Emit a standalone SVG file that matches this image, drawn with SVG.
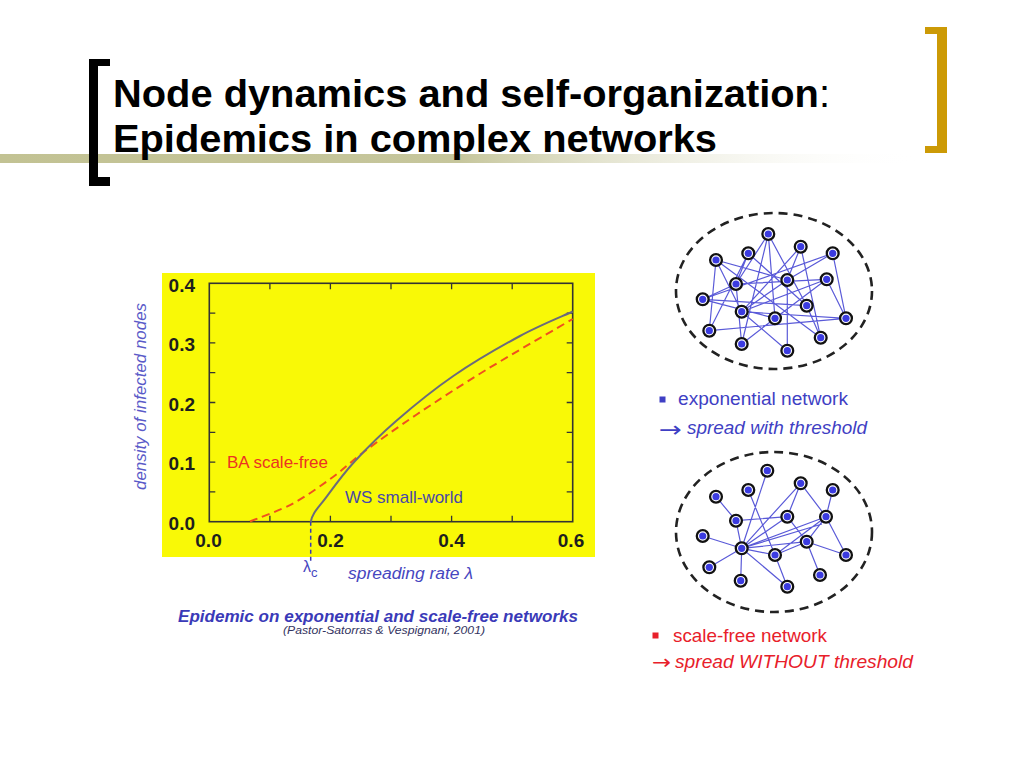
<svg xmlns="http://www.w3.org/2000/svg" width="1024" height="768" viewBox="0 0 1024 768">
<defs>
<linearGradient id="band" x1="0" y1="0" x2="920" y2="0" gradientUnits="userSpaceOnUse">
<stop offset="0" stop-color="#c2c293"/>
<stop offset="0.5" stop-color="#c6c69c"/>
<stop offset="1" stop-color="#ffffff" stop-opacity="0"/>
</linearGradient>
<g id="nd"><circle r="5.9" fill="#fff" stroke="#111" stroke-width="2.3"/><circle r="3.6" fill="#3b3be0"/></g>
<style>
text{font-family:"Liberation Sans",Arial,sans-serif}
.title{font-size:39px;font-weight:bold;fill:#000}
.tick{stroke:#333;stroke-width:1.3}
.tl{font-size:19px;font-weight:bold;fill:#1e1e1e}
.edge{stroke:#5a5ad8;stroke-width:1.2;fill:none}
.ell{fill:none;stroke:#222;stroke-width:2.6;stroke-dasharray:9 6}
.blue{fill:#3f3fc4}
.red{fill:#e8202a}
.arr{font-family:"DejaVu Sans",sans-serif}
</style>
</defs>
<rect width="1024" height="768" fill="#fff"/>
<!-- title decoration -->
<rect x="0" y="154" width="920" height="9" fill="url(#band)"/>
<path d="M89,59 H110 V66 H98 V177 H110 V186 H89 Z" fill="#000"/>
<path d="M925,27 H947 V153 H925 V146 H937 V34 H925 Z" fill="#cc9a06"/>
<text class="title" x="113" y="107" textLength="717" lengthAdjust="spacingAndGlyphs">Node dynamics and self-organization<tspan font-weight="normal">:</tspan></text>
<text class="title" x="113" y="152" textLength="604" lengthAdjust="spacingAndGlyphs">Epidemics in complex networks</text>

<!-- plot -->
<g id="plot">
<rect x="162" y="273" width="433" height="284" fill="#f9f906"/>
<rect x="209.3" y="283.3" width="363.4" height="238.4" fill="none" stroke="#333" stroke-width="1.6"/>
<g class="tick">
<path d="M269.9,521.7v-6M330.4,521.7v-6M391,521.7v-6M451.6,521.7v-6M512.2,521.7v-6M269.9,283.3v6M330.4,283.3v6M391,283.3v6M451.6,283.3v6M512.2,283.3v6"/>
<path d="M209.3,491.9h6M209.3,462.1h6M209.3,432.3h6M209.3,402.5h6M209.3,372.7h6M209.3,342.9h6M209.3,313.1h6M572.7,491.9h-6M572.7,462.1h-6M572.7,432.3h-6M572.7,402.5h-6M572.7,372.7h-6M572.7,342.9h-6M572.7,313.1h-6"/>
</g>
<g class="tl" text-anchor="end">
<text x="195" y="292">0.4</text>
<text x="195" y="351">0.3</text>
<text x="195" y="411">0.2</text>
<text x="195" y="470">0.1</text>
<text x="195" y="530">0.0</text>
</g>
<g class="tl" text-anchor="middle">
<text x="208.5" y="547">0.0</text>
<text x="330.5" y="547">0.2</text>
<text x="451.5" y="547">0.4</text>
<text x="571" y="547">0.6</text>
</g>
<path d="M250,521.5 C257.2,518.5 279.4,510.8 293.3,503.3 C307.2,495.8 321.35,485.4 333.3,476.7 C345.25,468 351.1,461.4 365,451 C378.9,440.6 396.4,428.1 416.7,414.5 C437,400.9 460.7,385.4 486.7,369.5 C512.7,353.6 558.4,327.4 572.7,319" fill="none" stroke="#f0501e" stroke-width="2" stroke-dasharray="8 5"/>
<path d="M310.7,522 C312.5,512 319.3,506.9 326.7,496.7 C334.1,486.5 343.3,473.7 355,461 C366.7,448.3 380.3,434.7 396.7,420.5 C413.1,406.3 432.8,390.1 453.3,376 C473.9,361.9 500.1,346.75 520,336 C539.9,325.25 563.9,315.6 572.7,311.5" fill="none" stroke="#6b6b7c" stroke-width="2"/>
<path d="M310.7,521.7 V562" stroke="#3a3ab0" stroke-width="1.5" stroke-dasharray="4 3"/>
<text x="227" y="468" font-size="17" fill="#ec3322" textLength="101" lengthAdjust="spacingAndGlyphs">BA scale-free</text>
<text x="345" y="503" font-size="17" fill="#4848a8" textLength="118" lengthAdjust="spacingAndGlyphs">WS small-world</text>
<text x="303" y="572" font-size="16" fill="#4646c0">λ<tspan font-size="13" dy="5">c</tspan></text>
<text x="348" y="579" font-size="16" font-style="italic" fill="#4646c0" textLength="125" lengthAdjust="spacingAndGlyphs">spreading rate λ</text>
<text transform="translate(146,396.5) rotate(-90)" text-anchor="middle" font-size="16" font-style="italic" fill="#5a5ac8" textLength="187" lengthAdjust="spacingAndGlyphs">density of infected nodes</text>
<text x="178" y="622" font-size="16.5" font-weight="bold" font-style="italic" fill="#3a3ab8" textLength="400" lengthAdjust="spacingAndGlyphs">Epidemic on exponential and scale-free networks</text>
<text x="283" y="634" font-size="11" font-style="italic" fill="#333360" textLength="202" lengthAdjust="spacingAndGlyphs">(Pastor-Satorras &amp; Vespignani, 2001)</text>
</g>

<!-- top (exponential) network -->
<ellipse cx="774" cy="291" rx="98" ry="78" class="ell"/>
<g id="edges-exp" class="edge">
<path d="M768.3,234L736,284M768.3,234L775,318.3M768.3,234L806.7,305.7M768.3,234L741.7,344M800.7,246.7L741.7,311.7M800.7,246.7L820.7,337.7M800.7,246.7L787.3,280M832.7,253.3L846,318.3M832.7,253.3L702.7,299.3M832.7,253.3L787.3,280M716,260L787.3,280M716,260L709.3,330.7M716,260L741.7,311.7M748.3,253.3L736,284M748.3,253.3L709.3,330.7M748.3,253.3L806.7,305.7M736,284L702.7,299.3M736,284L826.7,279.3M787.3,280L787.3,350.7M787.3,280L741.7,311.7M826.7,279.3L775,318.3M826.7,279.3L741.7,311.7M702.7,299.3L775,318.3M702.7,299.3L806.7,305.7M741.7,311.7L846,318.3M741.7,311.7L787.3,350.7M806.7,305.7L820.7,337.7M709.3,330.7L846,318.3M741.7,344L775,318.3M826.7,279.3L846,318.3M736,284L741.7,344M716,260L820.7,337.7"/>
</g>
<g id="e1"><use href="#nd" x="768.3" y="234"/></g>
<g id="e2"><use href="#nd" x="800.7" y="246.7"/></g>
<g id="e3"><use href="#nd" x="832.7" y="253.3"/></g>
<g id="e4"><use href="#nd" x="716" y="260"/></g>
<g id="e5"><use href="#nd" x="748.3" y="253.3"/></g>
<g id="e6"><use href="#nd" x="736" y="284"/></g>
<g id="e7"><use href="#nd" x="787.3" y="280"/></g>
<g id="e8"><use href="#nd" x="826.7" y="279.3"/></g>
<g id="e9"><use href="#nd" x="702.7" y="299.3"/></g>
<g id="e10"><use href="#nd" x="741.7" y="311.7"/></g>
<g id="e11"><use href="#nd" x="806.7" y="305.7"/></g>
<g id="e12"><use href="#nd" x="775" y="318.3"/></g>
<g id="e13"><use href="#nd" x="846" y="318.3"/></g>
<g id="e14"><use href="#nd" x="709.3" y="330.7"/></g>
<g id="e15"><use href="#nd" x="741.7" y="344"/></g>
<g id="e16"><use href="#nd" x="820.7" y="337.7"/></g>
<g id="e17"><use href="#nd" x="787.3" y="350.7"/></g>

<g id="legend-exp">
<rect x="659.5" y="396.5" width="6" height="6" class="blue"/>
<text x="678" y="405" font-size="18" class="blue" textLength="170" lengthAdjust="spacingAndGlyphs">exponential network</text>
<text x="659" y="437" font-size="22" class="blue arr" textLength="23" lengthAdjust="spacingAndGlyphs">→</text>
<text x="687" y="434" font-size="18" font-style="italic" class="blue" textLength="180" lengthAdjust="spacingAndGlyphs">spread with threshold</text>
</g>

<!-- bottom (scale-free) network -->
<ellipse cx="774" cy="532" rx="98" ry="80" class="ell"/>
<g id="edges-sf" class="edge">
<path d="M741.7,548.3L702.7,536M741.7,548.3L709.3,567.3M741.7,548.3L740.7,580.7M741.7,548.3L736,520.7M741.7,548.3L767.3,470.7M741.7,548.3L800.7,483.3M741.7,548.3L787.3,516.7M741.7,548.3L826,516.7M741.7,548.3L822,524M741.7,548.3L806.7,541.7M741.7,548.3L775,555M741.7,548.3L787.3,586.7M716,496.7L736,520.7M736,520.7L787.3,516.7M748.3,490L775,555M800.7,483.3L787.3,516.7M800.7,483.3L826,516.7M832.7,490L826,516.7M787.3,516.7L806.7,541.7M826,516.7L806.7,541.7M826,516.7L775,555M806.7,541.7L846,555M806.7,541.7L820,575M826,516.7L846,555M775,555L787.3,586.7M775,555L806.7,541.7"/>
</g>
<g id="s1"><use href="#nd" x="767.3" y="470.7"/></g>
<g id="s2"><use href="#nd" x="800.7" y="483.3"/></g>
<g id="s3"><use href="#nd" x="832.7" y="490"/></g>
<g id="s4"><use href="#nd" x="716" y="496.7"/></g>
<g id="s5"><use href="#nd" x="748.3" y="490"/></g>
<g id="s6"><use href="#nd" x="736" y="520.7"/></g>
<g id="s7"><use href="#nd" x="787.3" y="516.7"/></g>
<g id="s8"><use href="#nd" x="826" y="516.7"/></g>
<g id="s9"><use href="#nd" x="702.7" y="536"/></g>
<g id="s10"><use href="#nd" x="741.7" y="548.3"/></g>
<g id="s11"><use href="#nd" x="806.7" y="541.7"/></g>
<g id="s12"><use href="#nd" x="775" y="555"/></g>
<g id="s13"><use href="#nd" x="846" y="555"/></g>
<g id="s14"><use href="#nd" x="709.3" y="567.3"/></g>
<g id="s15"><use href="#nd" x="740.7" y="580.7"/></g>
<g id="s16"><use href="#nd" x="820" y="575"/></g>
<g id="s17"><use href="#nd" x="787.3" y="586.7"/></g>

<g id="legend-sf">
<rect x="652.5" y="632.5" width="6" height="6" class="red"/>
<text x="673" y="642" font-size="18.5" class="red" textLength="154" lengthAdjust="spacingAndGlyphs">scale-free network</text>
<text x="652" y="669" font-size="20" class="red arr" textLength="19" lengthAdjust="spacingAndGlyphs">→</text>
<text x="675" y="668" font-size="18.5" font-style="italic" class="red" textLength="238" lengthAdjust="spacingAndGlyphs">spread WITHOUT threshold</text>
</g>
</svg>
